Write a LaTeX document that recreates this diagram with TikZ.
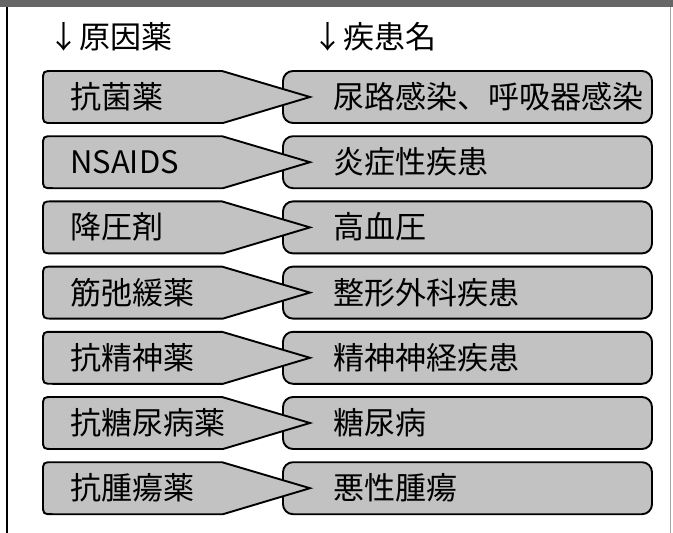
\documentclass[tikz,border=0pt]{standalone}
\usepackage{fontspec}
\setmainfont{Noto Sans CJK JP}
\begin{document}
\begin{tikzpicture}[x=1pt,y=-1pt,
  cell/.style={draw=black, line width=1.9pt, fill=black!24, line join=miter},
  lbl/.style={anchor=base west, inner sep=0pt, font=\fontsize{31}{37}\selectfont}]
\useasboundingbox (0,0) rectangle (673,533);
% top band and frame
\fill[black!60] (0,0) rectangle (673,7);
\draw[line width=1.3pt] (7,7) -- (7,533);
\draw[black!35, line width=0.8pt] (670,7) -- (670,533);
% headers
\node[lbl] (h1) at (48,48) {↓原因薬};
\node[lbl] (h2) at (312,48) {↓疾患名};
% rows
\foreach \i/\a/\b in {0/抗菌薬/尿路感染、呼吸器感染,
                      1/NSAIDS/炎症性疾患,
                      2/降圧剤/高血圧,
                      3/筋弛緩薬/整形外科疾患,
                      4/抗精神薬/精神神経疾患,
                      5/抗糖尿病薬/糖尿病,
                      6/抗腫瘍薬/悪性腫瘍}{
  \pgfmathsetmacro\t{71+65.2*\i}
  \draw[cell, rounded corners=10pt] (283,\t) rectangle (652,\t+52);
  \draw[cell] (310,\t+26) -- (222,\t) -- (53,\t)
     .. controls (43,\t) .. (43,\t+10) -- (43,\t+42)
     .. controls (43,\t+52) .. (53,\t+52) -- (223,\t+52) -- cycle;
  \node[lbl] (drug\i) at (70,\t+37.5) {\a};
  \node[lbl] (dis\i) at (333,\t+37.5) {\b};
}
\end{tikzpicture}
\end{document}
